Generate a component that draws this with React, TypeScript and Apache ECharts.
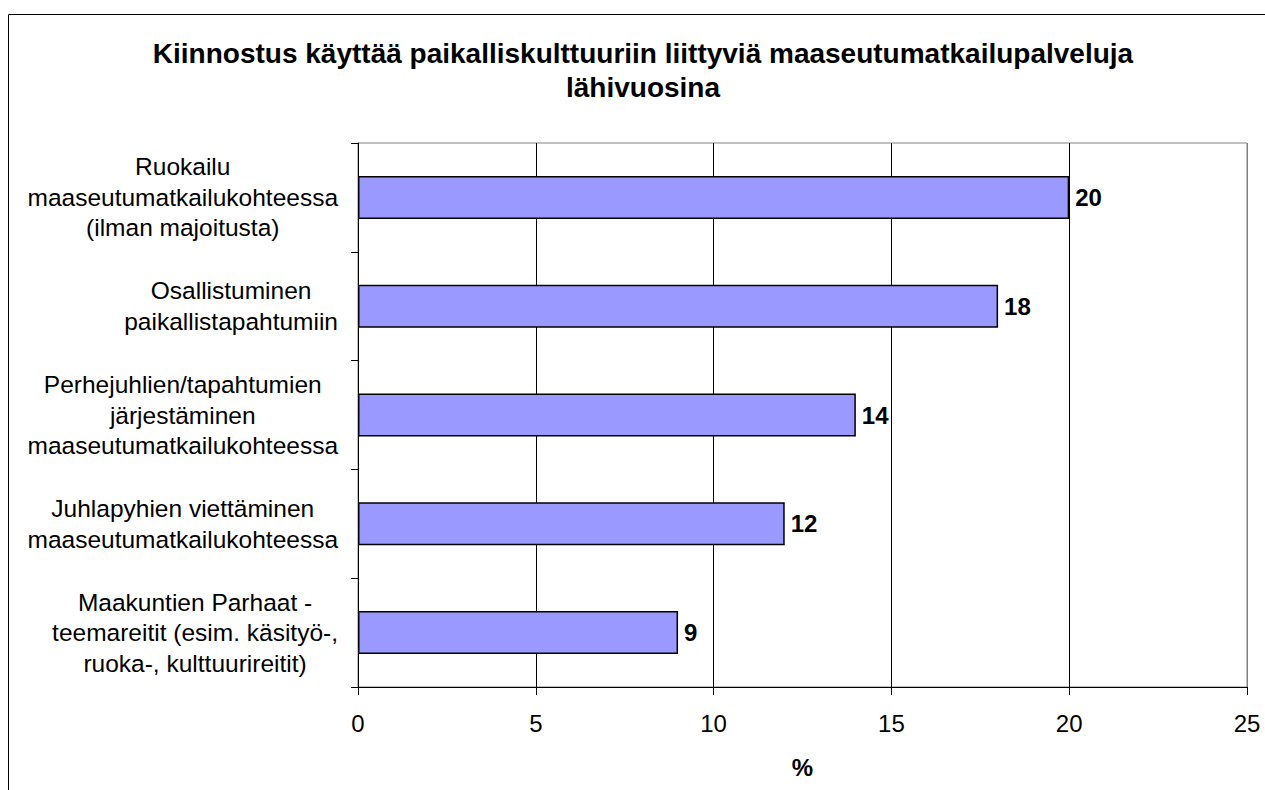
import React, { useEffect, useRef } from "react";
import * as echarts from "echarts";

const titleText =
  "Kiinnostus käyttää paikalliskulttuuriin liittyviä maaseutumatkailupalveluja\nlähivuosina";

const categories = [
  "Ruokailu\nmaaseutumatkailukohteessa\n(ilman majoitusta)",
  "Osallistuminen\npaikallistapahtumiin",
  "Perhejuhlien/tapahtumien\njärjestäminen\nmaaseutumatkailukohteessa",
  "Juhlapyhien viettäminen\nmaaseutumatkailukohteessa",
  "Maakuntien Parhaat -\nteemareitit (esim. käsityö-,\nruoka-, kulttuurireitit)",
];

const values = [20, 18, 14, 12, 9];

const xMin = 0;
const xMax = 25;
const xInterval = 5;
const xAxisName = "%";

const FONT = "'Liberation Sans', Arial, Helvetica, sans-serif";

export default function App() {
  const ref = useRef<HTMLDivElement>(null);

  useEffect(() => {
    if (!ref.current) return;
    const chart = echarts.init(ref.current, undefined, { renderer: "svg" });
    chart.setOption({
      animation: false,
      backgroundColor: "#ffffff",
      textStyle: { fontFamily: FONT },
      title: {
        text: titleText,
        left: 643,
        top: 36,
        padding: 0,
        textAlign: "center",
        textStyle: {
          fontFamily: FONT,
          fontSize: 28,
          fontWeight: "bold",
          color: "#000",
          lineHeight: 34,
        },
      },
      graphic: [
        {
          type: "rect",
          silent: true,
          z: -10,
          shape: { x: 8.5, y: 14.5, width: 1400, height: 900 },
          style: { fill: "none", stroke: "#000", lineWidth: 1 },
        },
      ],
      grid: {
        left: 358,
        right: 18,
        top: 143,
        bottom: 103,
        show: true,
        borderColor: "#808080",
        borderWidth: 1,
        backgroundColor: "transparent",
        containLabel: false,
      },
      xAxis: {
        type: "value",
        min: xMin,
        max: xMax,
        interval: xInterval,
        name: xAxisName,
        nameLocation: "middle",
        nameGap: 68,
        nameTextStyle: {
          fontFamily: FONT,
          fontSize: 24,
          fontWeight: "bold",
          color: "#000",
        },
        axisLine: { show: true, lineStyle: { color: "#000", width: 1 } },
        axisTick: { show: true, inside: false, length: 8, lineStyle: { color: "#000" } },
        axisLabel: {
          margin: 24,
          fontFamily: FONT,
          fontSize: 24,
          color: "#000",
        },
        splitLine: {
          show: true,
          lineStyle: {
            color: ["#000", "#000", "#000", "#000", "#000", "#808080"],
            width: 1,
          },
        },
      },
      yAxis: {
        type: "category",
        inverse: true,
        data: categories,
        axisLine: { show: true, lineStyle: { color: "#000", width: 1 } },
        axisTick: {
          show: true,
          inside: false,
          length: 7,
          alignWithLabel: false,
          interval: 0,
          lineStyle: { color: "#000" },
        },
        splitLine: { show: false },
        axisLabel: {
          interval: 0,
          margin: 20,
          color: "#000",
          fontFamily: FONT,
          fontSize: 24.5,
          lineHeight: 30.5,
          formatter: (v: string) =>
            v
              .split("\n")
              .map((l) => `{c|${l}}`)
              .join("\n"),
          rich: {
            c: {
              align: "center",
              fontFamily: FONT,
              fontSize: 24.5,
              lineHeight: 30.5,
              color: "#000",
            },
          },
        },
      },
      series: [
        {
          type: "bar",
          data: values,
          barWidth: 43,
          itemStyle: {
            color: "#9999FF",
            borderColor: "#000",
            borderWidth: 1.5,
          },
          label: {
            show: true,
            position: "right",
            distance: 6,
            fontFamily: FONT,
            fontSize: 24,
            fontWeight: "bold",
            color: "#000",
          },
        },
      ],
    });
    return () => chart.dispose();
  }, []);

  return (
    <div
      ref={ref}
      style={{ position: "fixed", left: 0, top: 0, width: 1265, height: 790 }}
    />
  );
}
